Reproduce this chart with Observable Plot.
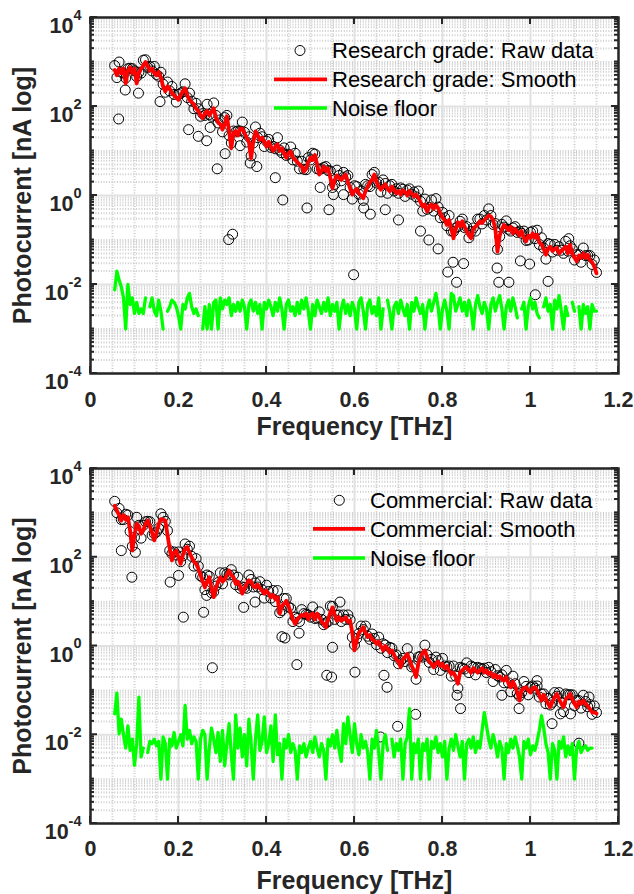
<!DOCTYPE html>
<html><head><meta charset="utf-8">
<script src="https://cdn.jsdelivr.net/npm/d3@7"></script>
<script src="https://cdn.jsdelivr.net/npm/@observablehq/plot@0.6"></script>
<style>
body{margin:0;background:#fff;}
#wrap svg{display:block;}
</style></head><body><div id="wrap"></div>
<script>
// Frequency samples [THz]
const freq = [
0.055,0.06,0.065,0.07,0.075,0.08,0.085,0.09,0.095,0.1,
0.105,0.11,0.115,0.12,0.125,0.13,0.135,0.14,0.145,0.15,
0.155,0.16,0.165,0.17,0.175,0.18,0.185,0.19,0.195,0.2,
0.205,0.21,0.215,0.22,0.225,0.23,0.235,0.24,0.245,0.25,
0.255,0.26,0.265,0.27,0.275,0.28,0.285,0.29,0.295,0.3,
0.305,0.31,0.315,0.32,0.325,0.33,0.335,0.34,0.345,0.35,
0.355,0.36,0.365,0.37,0.375,0.38,0.385,0.39,0.395,0.4,
0.405,0.41,0.415,0.42,0.425,0.43,0.435,0.44,0.445,0.45,
0.455,0.46,0.465,0.47,0.475,0.48,0.485,0.49,0.495,0.5,
0.505,0.51,0.515,0.52,0.525,0.53,0.535,0.54,0.545,0.55,
0.555,0.56,0.565,0.57,0.575,0.58,0.585,0.59,0.595,0.6,
0.605,0.61,0.615,0.62,0.625,0.63,0.635,0.64,0.645,0.65,
0.655,0.66,0.665,0.67,0.675,0.68,0.685,0.69,0.695,0.7,
0.705,0.71,0.715,0.72,0.725,0.73,0.735,0.74,0.745,0.75,
0.755,0.76,0.765,0.77,0.775,0.78,0.785,0.79,0.795,0.8,
0.805,0.81,0.815,0.82,0.825,0.83,0.835,0.84,0.845,0.85,
0.855,0.86,0.865,0.87,0.875,0.88,0.885,0.89,0.895,0.9,
0.905,0.91,0.915,0.92,0.925,0.93,0.935,0.94,0.945,0.95,
0.955,0.96,0.965,0.97,0.975,0.98,0.985,0.99,0.995,1.0,
1.005,1.01,1.015,1.02,1.025,1.03,1.035,1.04,1.045,1.05,
1.055,1.06,1.065,1.07,1.075,1.08,1.085,1.09,1.095,1.1,
1.105,1.11,1.115,1.12,1.125,1.13,1.135,1.14,1.145,1.15];

// Values below are log10 of photocurrent [nA]
const researchRaw = [
2.92,2.65,3.0,2.77,2.75,2.64,2.85,2.86,2.85,2.8,
2.67,2.77,2.75,3.04,3.05,2.88,2.9,2.8,2.9,2.72,
2.68,2.77,2.5,2.32,2.55,2.35,2.45,2.27,2.1,2.27,
2.3,2.33,2.51,2.2,2.3,2.12,1.95,2.07,1.95,1.78,
1.84,1.8,2.05,1.82,1.78,2.08,1.8,1.63,1.7,1.43,
1.75,1.8,1.35,1.18,1.45,1.43,1.45,1.45,1.65,1.42,
1.2,1.32,0.89,1.18,1.54,1.3,1.4,1.32,1.1,1.22,
1.26,1.08,1.1,1.05,1.3,1.02,0.96,1.07,0.9,0.93,
1.09,0.8,0.95,0.77,0.6,0.77,0.59,0.58,0.85,0.8,
0.95,0.93,0.6,0.59,0.6,0.63,0.65,0.56,0.55,0.18,
0.25,0.57,0.45,0.33,0.52,0.42,0.45,0.18,-0.08,0.22,
0.2,0.03,0.1,-0.11,0.25,0.22,0.2,0.47,0.52,0.28,
0.3,0.08,0.35,0.27,0.05,0.22,0.25,0.1,0.15,0.05,
0.17,0.14,-0.02,0.12,0.15,0.03,0.08,-0.03,0.1,-0.13,
-0.35,-0.08,-0.31,-0.27,-0.1,-0.35,-0.07,-0.26,-0.5,-0.38,
-0.5,-0.68,-0.45,-0.8,-0.81,-0.73,-0.7,-0.58,-0.53,-0.72,
-0.7,-0.95,-0.81,-0.73,-0.8,-0.53,-0.53,-0.64,-0.45,-0.55,
-0.3,-0.45,-0.65,-0.63,-1.21,-0.92,-0.65,-0.71,-0.57,-0.76,
-0.8,-0.73,-0.7,-0.83,-0.8,-0.85,-0.8,-1.01,-1.0,-0.83,
-0.8,-0.97,-0.78,-1.1,-0.95,-1.18,-1.43,-1.08,-1.1,-1.27,
-1.1,-1.23,-1.15,-1.23,-1.3,-1.03,-1.25,-1.13,-1.2,-1.45,
-1.33,-1.33,-1.5,-1.18,-1.35,-1.35,-1.35,-1.55,-1.45,-1.73];
const researchOutlierFreq = [0.064,0.079,0.109,0.158,0.223,0.245,0.264,0.272,0.288,0.306,0.314,0.323,0.34,0.363,0.378,0.42,0.437,0.492,0.522,0.542,0.552,0.575,0.598,0.621,0.636,0.67,0.7,0.75,0.769,0.79,0.812,0.824,0.832,0.848,0.924,0.928,0.951,0.977,0.998,1.011,1.04,1.087];
const researchOutlierRaw = [1.72,2.37,2.3,2.11,1.48,1.33,1.23,1.53,0.6,0.94,-0.99,-0.87,1.12,0.73,0.65,0.4,-0.1,-0.28,0.18,-0.32,0.02,0.02,-1.78,-0.28,-0.42,-0.32,-0.55,-0.8,-1.0,-1.2,-1.72,-1.5,-1.95,-1.53,-1.63,-1.95,-1.95,-1.47,-1.54,-2.23,-1.93,-0.97];
const researchSmooth = [
2.82,2.7,2.85,2.75,2.85,2.52,2.8,2.88,2.75,2.85,
2.52,2.75,2.85,2.92,3.0,2.9,2.8,2.85,2.75,2.7,
2.78,2.65,2.45,2.34,2.45,2.4,2.3,2.25,2.2,2.15,
2.25,2.35,2.41,2.25,2.15,2.1,2.05,1.95,1.9,1.8,
1.74,1.85,1.9,1.8,1.88,1.96,1.75,1.65,1.6,1.48,
1.6,1.78,1.45,1.06,1.4,1.45,1.35,1.5,1.5,1.4,
1.3,1.2,0.84,1.2,1.44,1.35,1.25,1.3,1.2,1.1,
1.21,1.1,1.0,1.1,1.15,1.0,1.06,0.95,0.85,0.95,
0.99,0.85,0.8,0.75,0.7,0.65,0.54,0.6,0.75,0.85,
0.8,0.91,0.7,0.47,0.55,0.65,0.55,0.61,0.4,0.16,
0.35,0.45,0.4,0.35,0.42,0.47,0.3,0.16,0.02,0.1,
0.15,0.05,0.0,-0.06,0.1,0.2,0.3,0.35,0.47,0.3,
0.2,0.13,0.2,0.25,0.15,0.1,0.2,0.12,0.05,0.1,
0.02,0.12,0.08,0.0,0.1,0.05,-0.02,0.02,-0.05,-0.15,
-0.25,-0.2,-0.36,-0.25,-0.2,-0.3,-0.22,-0.28,-0.4,-0.5,
-0.55,-0.66,-0.55,-0.75,-0.96,-0.75,-0.6,-0.7,-0.58,-0.7,
-0.8,-0.9,-0.96,-0.75,-0.7,-0.65,-0.58,-0.62,-0.55,-0.5,
-0.45,-0.47,-0.55,-0.75,-1.26,-0.9,-0.75,-0.66,-0.72,-0.78,
-0.7,-0.85,-0.75,-0.81,-0.9,-0.8,-0.95,-1.03,-0.9,-0.95,
-0.85,-0.95,-0.88,-1.05,-1.1,-1.2,-1.33,-1.2,-1.15,-1.25,
-1.2,-1.18,-1.3,-1.25,-1.2,-1.15,-1.3,-1.11,-1.3,-1.4,
-1.48,-1.35,-1.4,-1.3,-1.4,-1.33,-1.45,-1.5,-1.6,-1.75];
const researchNoise = [
-2.12,-1.7,-1.9,-2.05,-2.3,-3.0,-2.0,-2.45,-2.3,-2.65,
-2.4,-2.65,-2.55,-2.65,-2.3,null,-2.5,-2.3,-2.6,-2.7,
-2.35,-2.6,-3.0,null,-2.6,-2.5,-2.35,-2.4,-2.5,-2.7,
-3.0,-2.45,-2.55,-2.3,-2.2,-2.5,-2.65,-2.55,-2.7,null,
-3.0,-2.5,-3.0,-2.45,-3.0,-2.4,-2.35,-3.0,-2.3,-2.55,
-2.35,-2.45,-2.3,-2.7,-2.45,-2.6,-2.4,-2.6,-2.35,-2.5,
-3.0,-2.45,-2.35,-2.6,-2.4,-2.65,-2.45,-3.0,-2.4,-2.55,
-2.35,-2.5,-2.7,-2.4,-2.6,-2.3,-2.55,-3.0,-2.45,-2.35,
-2.6,-2.5,-2.7,-2.4,-2.65,-2.35,-2.55,-2.3,-2.6,-3.0,
-2.45,-2.7,-2.35,-2.5,-2.65,-2.4,-2.6,-2.3,-2.7,-2.45,
-2.6,-2.4,-3.0,-2.55,-2.35,-2.65,-2.45,-2.7,-2.4,-2.55,
-3.0,-2.4,-2.3,-2.6,-3.0,-2.45,-2.35,-2.65,-2.5,-2.7,
-2.3,-3.0,-2.55,null,-2.35,-2.6,-3.0,-2.5,-2.4,-2.65,
-2.35,-2.55,-2.7,-2.45,-3.0,-2.4,-2.6,-2.3,-2.5,-2.65,
-2.45,-3.0,-2.55,-2.35,-2.6,-2.4,-2.2,-2.5,-3.0,-2.55,
-2.35,-2.6,-3.0,-2.2,-2.25,-2.6,-2.45,-2.3,-2.6,-2.4,
-2.7,-2.35,-2.55,-3.0,-2.45,-2.25,-2.5,-2.65,-2.4,-2.55,
-3.0,-2.45,-2.3,-2.6,-2.4,-2.25,-2.55,-3.0,-2.5,-2.35,
-2.6,-2.3,-2.5,-2.75,null,-2.55,-2.4,-3.0,-2.5,-2.3,
-2.55,-2.4,-2.65,-2.75,null,-2.5,-2.3,-2.6,-2.45,-3.0,
-2.35,-2.55,-2.25,-2.6,-3.0,-2.5,-2.7,null,-2.4,-2.6,
null,-2.5,-3.0,-2.45,-2.65,-2.5,-3.0,-2.45,-2.6,-2.6];

const commercialRaw = [
3.26,3.0,3.1,2.85,2.85,2.97,2.95,2.58,2.25,2.45,
2.9,2.72,2.43,2.72,2.8,2.81,2.8,2.5,2.53,2.57,
2.65,2.98,2.9,2.81,2.6,2.15,2.08,2.12,2.05,2.12,
1.9,2.03,2.3,2.18,2.25,2.02,1.8,1.97,1.8,1.58,
1.55,1.27,1.6,1.57,1.2,1.22,1.35,1.43,1.65,1.4,
1.65,1.62,1.6,1.72,1.6,1.38,1.55,1.3,1.33,1.32,
1.3,1.6,1.5,1.33,1.42,1.33,1.45,1.27,1.08,1.37,
1.23,1.08,1.25,1.0,1.25,0.75,0.8,1.07,1.07,0.88,
0.85,0.55,0.65,0.62,0.55,0.82,0.73,0.71,0.7,0.65,
0.88,0.62,0.63,0.77,0.6,0.48,0.52,0.55,0.9,0.89,
0.6,0.69,0.7,0.55,0.7,0.6,0.7,0.59,0.2,0.02,
0.17,0.28,0.45,0.37,0.45,0.22,0.15,0.27,0.17,0.03,
0.2,-0.05,0.05,0.02,-0.15,-0.03,-0.05,-0.22,-0.2,-0.4,
-0.33,-0.28,-0.35,-0.06,-0.25,-0.47,-0.45,-0.75,-0.25,-0.23,
-0.25,0.02,-0.2,-0.37,-0.3,-0.53,-0.25,-0.33,-0.55,-0.28,
-0.45,-0.47,-0.45,-0.68,-0.45,-0.68,-0.95,-0.48,-0.5,-0.52,
-0.38,-0.6,-0.45,-0.48,-0.65,-0.48,-0.5,-0.52,-0.5,-0.6,
-0.48,-0.58,-0.8,-0.53,-0.67,-0.7,-0.65,-0.83,-0.55,-0.83,
-1.03,-0.68,-0.85,-1.07,-1.13,-1.05,-0.8,-0.91,-1.1,-0.93,
-0.9,-0.95,-0.9,-1.15,-1.08,-1.08,-1.3,-1.18,-1.33,-1.27,
-1.05,-1.13,-1.05,-1.28,-1.48,-1.08,-1.1,-1.1,-1.1,-1.35,
-1.23,-1.23,-1.4,-1.11,-1.25,-1.37,-1.32,-1.54,-1.35,-1.5];
const commercialOutlierFreq = [0.07,0.094,0.102,0.181,0.2,0.211,0.257,0.264,0.277,0.348,0.374,0.435,0.442,0.469,0.474,0.537,0.548,0.55,0.567,0.601,0.659,0.667,0.674,0.698,0.739,0.833,0.841,0.935,0.974,1.015,1.049,1.068,1.091,1.11,1.133];
const commercialOutlierRaw = [2.15,1.55,2.11,1.44,1.59,0.65,0.76,1.14,-0.49,0.87,0.99,0.21,0.18,-0.42,0.29,-0.66,-0.7,-0.03,0.99,-0.59,-2.05,-0.66,-0.93,-1.81,-1.54,-1.11,-1.41,-1.11,-1.41,-0.78,-1.75,-1.53,-1.53,-2.19,-1.15];
const commercialSmooth = [
3.16,3.05,2.95,2.83,2.95,2.85,2.9,2.6,2.15,2.5,
2.75,2.7,2.53,2.6,2.75,2.83,2.7,2.55,2.38,2.55,
2.75,2.86,2.85,2.83,2.5,2.2,1.93,2.1,2.15,2.0,
1.85,2.05,2.2,2.23,2.1,2.0,1.9,1.85,1.75,1.6,
1.45,1.32,1.45,1.55,1.3,1.1,1.3,1.45,1.55,1.45,
1.5,1.6,1.7,1.6,1.55,1.4,1.45,1.35,1.18,1.3,
1.4,1.48,1.45,1.35,1.32,1.38,1.3,1.25,1.18,1.25,
1.18,1.1,1.15,1.05,1.1,0.73,0.9,0.95,1.02,0.9,
0.75,0.6,0.5,0.6,0.65,0.7,0.68,0.73,0.6,0.7,
0.73,0.6,0.73,0.65,0.55,0.5,0.42,0.6,0.75,0.87,
0.7,0.57,0.65,0.57,0.6,0.65,0.55,0.57,0.3,-0.1,
0.12,0.3,0.35,0.42,0.3,0.2,0.25,0.15,0.12,0.05,
0.1,0.0,-0.1,0.0,-0.05,-0.15,-0.1,-0.2,-0.3,-0.35,
-0.48,-0.3,-0.25,-0.18,-0.3,-0.45,-0.55,-0.7,-0.4,-0.25,
-0.15,-0.1,-0.25,-0.35,-0.4,-0.48,-0.4,-0.35,-0.45,-0.4,
-0.5,-0.45,-0.55,-0.63,-0.6,-0.7,-0.85,-0.6,-0.55,-0.5,
-0.48,-0.55,-0.6,-0.5,-0.55,-0.6,-0.55,-0.5,-0.6,-0.55,
-0.63,-0.6,-0.7,-0.65,-0.72,-0.68,-0.75,-0.78,-0.7,-0.85,
-0.93,-0.8,-0.9,-1.05,-1.23,-1.0,-0.95,-0.93,-1.0,-1.05,
-0.95,-0.93,-1.0,-1.1,-1.23,-1.1,-1.2,-1.3,-1.38,-1.25,
-1.15,-1.08,-1.2,-1.3,-1.38,-1.2,-1.15,-1.08,-1.2,-1.3,
-1.38,-1.25,-1.3,-1.23,-1.3,-1.35,-1.42,-1.49,-1.5,-1.52];
const commercialNoise = [
-1.53,-1.06,-1.98,-1.65,-2.0,-2.3,-1.8,-2.35,-2.1,-2.69,
-2.2,-1.15,-2.5,-2.3,null,-2.4,-2.15,-2.2,-2.1,-2.25,
-2.15,-3.0,-2.05,-2.2,-3.0,-2.1,-2.25,-1.95,-2.3,-2.15,
-2.0,-2.25,-1.34,-2.1,-1.9,-2.2,-2.05,-2.15,-3.0,-2.1,
-1.9,-2.0,-3.0,-2.3,-1.85,-2.1,-2.4,-1.95,-2.6,-1.9,
-2.7,-2.2,-1.75,-2.45,-3.0,-1.55,-2.3,-1.85,-2.5,-2.0,
-2.7,-1.65,-2.2,-3.0,-2.1,-1.55,-2.35,-2.15,-1.6,-2.4,
-2.2,-1.8,-2.6,-1.55,-2.45,-2.2,-3.0,-2.1,-2.3,-2.0,
-2.4,-2.2,-2.35,-3.0,-2.25,-2.4,-2.2,-2.5,-2.3,-2.15,
-2.4,-2.05,-2.3,-2.5,-2.2,-2.35,-3.0,-2.1,-2.25,-2.0,
-2.3,-1.9,-2.35,-2.6,-1.75,-2.2,-1.6,-2.0,-2.4,-1.75,
-2.2,-2.45,-2.0,-2.3,-2.15,-2.4,-3.0,-2.1,-2.3,-1.9,
-2.4,-3.0,-2.2,-2.0,-2.35,null,-2.1,-2.5,-2.2,-2.35,
-2.1,-3.0,-2.2,-2.05,-1.41,-3.0,-2.2,-2.4,-2.1,-3.0,
-2.2,-2.35,-2.1,-3.0,-2.15,-2.3,-2.05,-2.4,-2.2,-2.5,
-2.15,-3.0,-2.3,-2.1,-2.35,-2.0,-2.25,-2.5,-2.15,-3.0,
-2.2,-2.1,-2.3,-2.05,-2.4,-2.15,-2.3,-1.9,-1.5,-1.8,
-2.1,-2.3,-2.0,-2.2,-2.5,-2.15,-2.3,-3.0,-2.2,-2.4,
-2.1,-2.3,-2.05,-2.25,-2.5,-3.0,-2.15,-2.3,-2.1,-2.45,
-2.25,-2.35,-2.15,-1.9,-1.57,-1.85,-2.2,-2.4,-3.0,-2.2,
-2.35,-3.0,-2.15,-2.3,-2.05,-2.5,-2.25,-2.45,-2.2,-3.0,
-2.3,-2.15,-2.4,-2.3,-2.25,-2.35,-2.3,-2.3,null,null];

const xTicks = [0, 0.2, 0.4, 0.6, 0.8, 1, 1.2];
const xMinorTicks = [0.05,0.1,0.15,0.25,0.3,0.35,0.45,0.5,0.55,0.65,0.7,0.75,0.85,0.9,0.95,1.05,1.1,1.15];
const yTickExponents = [-4, -2, 0, 2, 4];
const xLabel = "Frequency [THz]";
const yLabel = "Photocurrent [nA log]";
const legendResearch = ["Research grade: Raw data", "Research grade: Smooth", "Noise floor"];
const legendCommercial = ["Commercial: Raw data", "Commercial: Smooth", "Noise floor"];

const FONT = '"Liberation Sans", Arial, Helvetica, sans-serif';
const AXIS = "#262626";

function makePanel(cfg) {
  const toV = e => (e === null || e === undefined ? NaN : Math.pow(10, e));
  const raw = freq.map((f, i) => ({f, v: toV(cfg.raw[i])}))
    .concat(cfg.outF.map((f, i) => ({f, v: toV(cfg.outE[i])})));
  const smooth = freq.map((f, i) => ({f, v: toV(cfg.smooth[i])}));
  const noise = freq.map((f, i) => ({f, v: toV(cfg.noise[i])}));
  const yMajor = yTickExponents.map(e => Math.pow(10, e));
  const yMinor = [];
  for (let k = -4; k < 4; k++) {
    for (let m = 1; m <= 9; m++) {
      if (m === 1 && k % 2 === 0) continue;
      yMinor.push(m * Math.pow(10, k));
    }
  }
  const W = 634, H = 447, mL = 90, mR = 16;
  const plot = Plot.plot({
    width: W, height: H,
    marginTop: cfg.mT, marginBottom: cfg.mB, marginLeft: mL, marginRight: mR,
    style: {fontFamily: FONT, color: AXIS, background: "#fff", overflow: "visible"},
    x: {domain: [0, 1.2]},
    y: {type: "log", domain: [1e-4, 1e4]},
    marks: [
      Plot.ruleX(xMinorTicks, {stroke: "#cdcdcd", strokeWidth: 2, strokeDasharray: "1,1.7"}),
      Plot.ruleY(yMinor, {stroke: "#cdcdcd", strokeWidth: 2, strokeDasharray: "1,1.7"}),
      Plot.ruleX(xTicks, {stroke: "#e1e1e1", strokeWidth: 2}),
      Plot.ruleY(yMajor, {stroke: "#e1e1e1", strokeWidth: 2}),
      Plot.dot(raw, {x: "f", y: "v", r: 5, stroke: "#000", strokeWidth: 1, fill: "none"}),
      Plot.line(smooth, {x: "f", y: "v", stroke: "#ff0000", strokeWidth: 3.8}),
      Plot.line(noise, {x: "f", y: "v", stroke: "#00ff00", strokeWidth: 3.3}),
      Plot.axisX(xTicks, {tickSize: 0, tickPadding: cfg.xPad, tickFormat: d => String(d), fontSize: 21.5, fontWeight: "bold", label: null}),
      Plot.axisY(yMajor, {tickSize: 0, tickPadding: 9, tickFormat: d => String(Math.round(Math.log10(d))), fontSize: 21.5, fontWeight: "bold", label: null}),
      Plot.text([xLabel], {frameAnchor: "bottom", dy: cfg.xLabelDy, lineAnchor: "middle", textAnchor: "middle", fontSize: 25, fontWeight: "bold", fill: AXIS}),
      Plot.text([yLabel], {frameAnchor: "left", dx: -68, rotate: -90, lineAnchor: "middle", textAnchor: "middle", fontSize: 25, fontWeight: "bold", fill: AXIS}),
      Plot.frame({stroke: AXIS, strokeWidth: 2.5})
    ]
  });

  const svg = d3.select(plot);
  // y tick labels as 10^n with superscript
  svg.selectAll('g[aria-label="y-axis tick label"] text').each(function () {
    const e = this.textContent;
    const t = d3.select(this);
    t.text(null).attr("y", 0);
    t.append("tspan").attr("dy", 15.5).text("10");
    t.append("tspan").attr("dy", -13.5).attr("font-size", 14.5).text(e);
  });

  // inward ticks on all four sides, using the plot's own scales
  const sx = plot.scale("x"), sy = plot.scale("y");
  const top = cfg.mT, bot = H - cfg.mB, left = mL, right = W - mR;
  const g = svg.append("g").attr("stroke", AXIS).attr("stroke-width", 2);
  for (const t of xTicks) {
    const X = sx.apply(t);
    g.append("line").attr("x1", X).attr("x2", X).attr("y1", bot).attr("y2", bot - 7);
    g.append("line").attr("x1", X).attr("x2", X).attr("y1", top).attr("y2", top + 7);
  }
  for (const t of yMajor) {
    const Y = sy.apply(t);
    g.append("line").attr("x1", left).attr("x2", left + 7).attr("y1", Y).attr("y2", Y);
    g.append("line").attr("x1", right).attr("x2", right - 7).attr("y1", Y).attr("y2", Y);
  }
  for (const t of yMinor) {
    const Y = sy.apply(t);
    g.append("line").attr("x1", left).attr("x2", left + 4).attr("y1", Y).attr("y2", Y);
    g.append("line").attr("x1", right).attr("x2", right - 4).attr("y1", Y).attr("y2", Y);
  }

  // legend
  const L = cfg.legend;
  const lg = svg.append("g").attr("font-family", FONT).attr("font-size", 22)
    .attr("font-weight", "normal").attr("text-anchor", "start").attr("fill", "#000");
  lg.append("circle").attr("cx", L.cx).attr("cy", L.rows[0]).attr("r", 5)
    .attr("fill", "none").attr("stroke", "#000").attr("stroke-width", 1);
  lg.append("line").attr("x1", L.lx1).attr("x2", L.lx2).attr("y1", L.rows[1]).attr("y2", L.rows[1])
    .attr("stroke", "#ff0000").attr("stroke-width", 3.8);
  lg.append("line").attr("x1", L.lx1).attr("x2", L.lx2).attr("y1", L.rows[2]).attr("y2", L.rows[2])
    .attr("stroke", "#00ff00").attr("stroke-width", 3.3);
  cfg.names.forEach((name, i) => {
    lg.append("text").attr("x", L.tx).attr("y", L.rows[i] + 7.8).attr("text-anchor", "start").text(name);
  });
  return plot;
}

const wrap = document.getElementById("wrap");
wrap.appendChild(makePanel({
  raw: researchRaw, outF: researchOutlierFreq, outE: researchOutlierRaw,
  smooth: researchSmooth, noise: researchNoise, names: legendResearch,
  mT: 17, mB: 74, xPad: 18, xLabelDy: 53,
  legend: {cx: 300, lx1: 274, lx2: 327, tx: 332, rows: [50.5, 79.3, 108]}
}));
wrap.appendChild(makePanel({
  raw: commercialRaw, outF: commercialOutlierFreq, outE: commercialOutlierRaw,
  smooth: commercialSmooth, noise: commercialNoise, names: legendCommercial,
  mT: 21, mB: 71, xPad: 17, xLabelDy: 57,
  legend: {cx: 339.3, lx1: 313, lx2: 365, tx: 370, rows: [53.3, 81.8, 111]}
}));
</script>
</body></html>
